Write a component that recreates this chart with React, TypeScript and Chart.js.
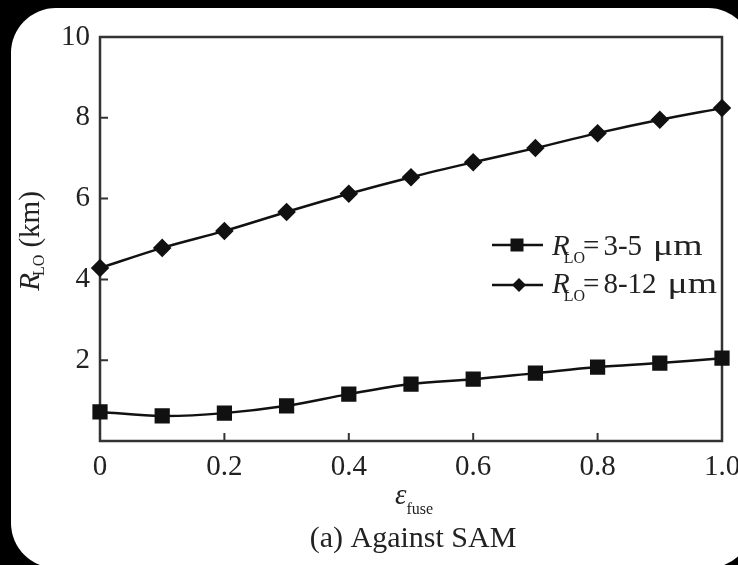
import React, { useEffect, useRef } from "react";
import { Chart, registerables } from "chart.js";

Chart.register(...registerables);

// ---- data ----
const X_VALUES = [0, 0.1, 0.2, 0.3, 0.4, 0.5, 0.6, 0.7, 0.8, 0.9, 1.0];
const SERIES_3_5 = [0.72, 0.62, 0.69, 0.87, 1.16, 1.41, 1.53, 1.68, 1.83, 1.93, 2.05];
const SERIES_8_12 = [4.28, 4.78, 5.2, 5.67, 6.12, 6.53, 6.9, 7.25, 7.62, 7.95, 8.24];
const X_TICKS = [0, 0.2, 0.4, 0.6, 0.8, 1.0];
const X_TICK_LABELS = ["0", "0.2", "0.4", "0.6", "0.8", "1.0"];
const Y_TICKS = [2, 4, 6, 8, 10];
const Y_TICK_LABELS = ["2", "4", "6", "8", "10"];
const LEGEND_RANGE = ["3-5", "8-12"];

const SERIF = "'Liberation Serif', 'Times New Roman', serif";
const INK = "#111";
const AXIS = "#333";

type Seg = { text: string; size: number; italic?: boolean; dy?: number; dx?: number; sx?: number };

function drawRuns(ctx: CanvasRenderingContext2D, segs: Seg[], x: number, y: number, align: "left" | "center") {
  ctx.save();
  ctx.textBaseline = "alphabetic";
  ctx.textAlign = "left";
  const widths = segs.map((s) => {
    ctx.font = `${s.italic ? "italic " : ""}${s.size}px ${SERIF}`;
    return ctx.measureText(s.text).width * (s.sx || 1) + (s.dx || 0);
  });
  const total = widths.reduce((a, b) => a + b, 0);
  let cx = align === "center" ? x - total / 2 : x;
  segs.forEach((s, i) => {
    ctx.font = `${s.italic ? "italic " : ""}${s.size}px ${SERIF}`;
    const px = cx + (s.dx || 0);
    const py = y + (s.dy || 0);
    if (s.sx && s.sx !== 1) {
      ctx.save();
      ctx.translate(px, py);
      ctx.scale(s.sx, 1);
      ctx.fillText(s.text, 0, 0);
      ctx.restore();
    } else {
      ctx.fillText(s.text, px, py);
    }
    cx += widths[i];
  });
  ctx.restore();
}

const bgPlugin = {
  id: "bgPanel",
  beforeDraw(chart: any) {
    const { ctx, width, height } = chart;
    ctx.save();
    ctx.fillStyle = "#000";
    ctx.fillRect(0, 0, width, height);
    ctx.fillStyle = "#fff";
    ctx.beginPath();
    (ctx as any).roundRect(11, 8, 742, 560, 45);
    ctx.fill();
    ctx.restore();
  },
};

const framePlugin = {
  id: "frame",
  beforeDatasetsDraw(chart: any) {
    const { ctx, chartArea, scales } = chart;
    const { left, right, top, bottom } = chartArea;
    ctx.save();
    ctx.strokeStyle = AXIS;
    ctx.lineWidth = 2.5;
    ctx.strokeRect(left, top, right - left, bottom - top);
    ctx.lineWidth = 2;
    ctx.beginPath();
    Y_TICKS.forEach((v) => {
      if (v >= 10) return;
      const py = scales.y.getPixelForValue(v);
      ctx.moveTo(left, py);
      ctx.lineTo(left + 8, py);
    });
    X_TICKS.forEach((v) => {
      if (v <= 0 || v >= 1) return;
      const px = scales.x.getPixelForValue(v);
      ctx.moveTo(px, bottom);
      ctx.lineTo(px, bottom - 8);
    });
    ctx.stroke();
    ctx.restore();
  },
  afterDraw(chart: any) {
    const { ctx, chartArea } = chart;
    ctx.save();
    ctx.fillStyle = "#222";
    // y-axis title (rotated)
    ctx.save();
    ctx.translate(39, (chartArea.top + chartArea.bottom) / 2 + 2);
    ctx.rotate(-Math.PI / 2);
    drawRuns(
      ctx,
      [
        { text: "R", size: 29, italic: true },
        { text: "LO", size: 16, dy: 5, dx: -3 },
        { text: " (km)", size: 29 },
      ],
      0,
      0,
      "center"
    );
    ctx.restore();
    // x-axis title
    drawRuns(
      ctx,
      [
        { text: "\u03b5", size: 29, italic: true },
        { text: "fuse", size: 16, dy: 10, dx: 0 },
      ],
      414,
      504,
      "center"
    );
    // caption
    drawRuns(ctx, [{ text: "(a) Against SAM", size: 30 }], 413, 547, "center");

    // legend
    const rows = [
      { y: 245, base: 255, style: "square" },
      { y: 285, base: 293, style: "diamond" },
    ];
    rows.forEach((r, i) => {
      ctx.strokeStyle = INK;
      ctx.lineWidth = 2.5;
      ctx.beginPath();
      ctx.moveTo(492, r.y);
      ctx.lineTo(543, r.y);
      ctx.stroke();
      ctx.fillStyle = INK;
      if (r.style === "square") {
        ctx.fillRect(517 - 6.5, r.y - 6.5, 13, 13);
      } else {
        ctx.beginPath();
        ctx.moveTo(519, r.y - 7);
        ctx.lineTo(526, r.y);
        ctx.lineTo(519, r.y + 7);
        ctx.lineTo(512, r.y);
        ctx.closePath();
        ctx.fill();
      }
      ctx.fillStyle = "#222";
      drawRuns(
        ctx,
        [
          { text: "R", size: 29, italic: true },
          { text: "LO", size: 16, dy: 8, dx: -6 },
          { text: "=", size: 29, dx: -2 },
          { text: LEGEND_RANGE[i], size: 29, dx: 4 },
          { text: "\u03bcm", size: 29, dx: 11, sx: 1.3 },
        ],
        552,
        r.base,
        "left"
      );
    });
    ctx.restore();
  },
};

export default function App() {
  const ref = useRef<HTMLCanvasElement | null>(null);
  useEffect(() => {
    if (!ref.current) return;
    const chart = new Chart(ref.current, {
      type: "line",
      data: {
        datasets: [
          {
            label: "R_LO = 3-5 μm",
            data: X_VALUES.map((x, i) => ({ x, y: SERIES_3_5[i] })),
            borderColor: INK,
            backgroundColor: INK,
            borderWidth: 2.5,
            pointStyle: "rect",
            pointRadius: 9,
            pointHoverRadius: 9,
            tension: 0.35,
            clip: false as any,
          },
          {
            label: "R_LO = 8-12 μm",
            data: X_VALUES.map((x, i) => ({ x, y: SERIES_8_12[i] })),
            borderColor: INK,
            backgroundColor: INK,
            borderWidth: 2.5,
            pointStyle: "rectRot",
            pointRadius: 7.5,
            pointHoverRadius: 7.5,
            tension: 0.35,
            clip: false as any,
          },
        ],
      },
      plugins: [bgPlugin, framePlugin],
      options: {
        animation: false,
        responsive: false,
        devicePixelRatio: 1,
        layout: { padding: { left: 0, top: 37, right: 16, bottom: 0 } },
        plugins: { legend: { display: false }, tooltip: { enabled: false } },
        events: [],
        scales: {
          x: {
            type: "linear",
            min: 0,
            max: 1,
            grid: { display: false },
            border: { display: false },
            afterBuildTicks: (s: any) => {
              s.ticks = X_TICKS.map((v) => ({ value: v }));
            },
            afterFit: (s: any) => {
              s.height = 124;
              s.paddingLeft = 0;
              s.paddingRight = 0;
            },
            ticks: {
              padding: 1,
              maxRotation: 0,
              autoSkip: false,
              color: "#222",
              font: { family: SERIF, size: 29 },
              callback: (v: any) => X_TICK_LABELS[X_TICKS.indexOf(Number(v))] ?? "",
            },
          },
          y: {
            type: "linear",
            min: 0,
            max: 10,
            grid: { display: false },
            border: { display: false },
            afterBuildTicks: (s: any) => {
              s.ticks = Y_TICKS.map((v) => ({ value: v }));
            },
            afterFit: (s: any) => {
              s.width = 100;
              s.paddingTop = 0;
              s.paddingBottom = 0;
            },
            ticks: {
              padding: 2,
              autoSkip: false,
              color: "#222",
              font: { family: SERIF, size: 29 },
              callback: (v: any) => Y_TICK_LABELS[Y_TICKS.indexOf(Number(v))] ?? "",
            },
          },
        },
      },
    });
    return () => chart.destroy();
  }, []);
  return (
    <div style={{ position: "absolute", left: 0, top: 0, width: 738, height: 565 }}>
      <canvas ref={ref} width={738} height={565} style={{ display: "block" }} />
    </div>
  );
}
